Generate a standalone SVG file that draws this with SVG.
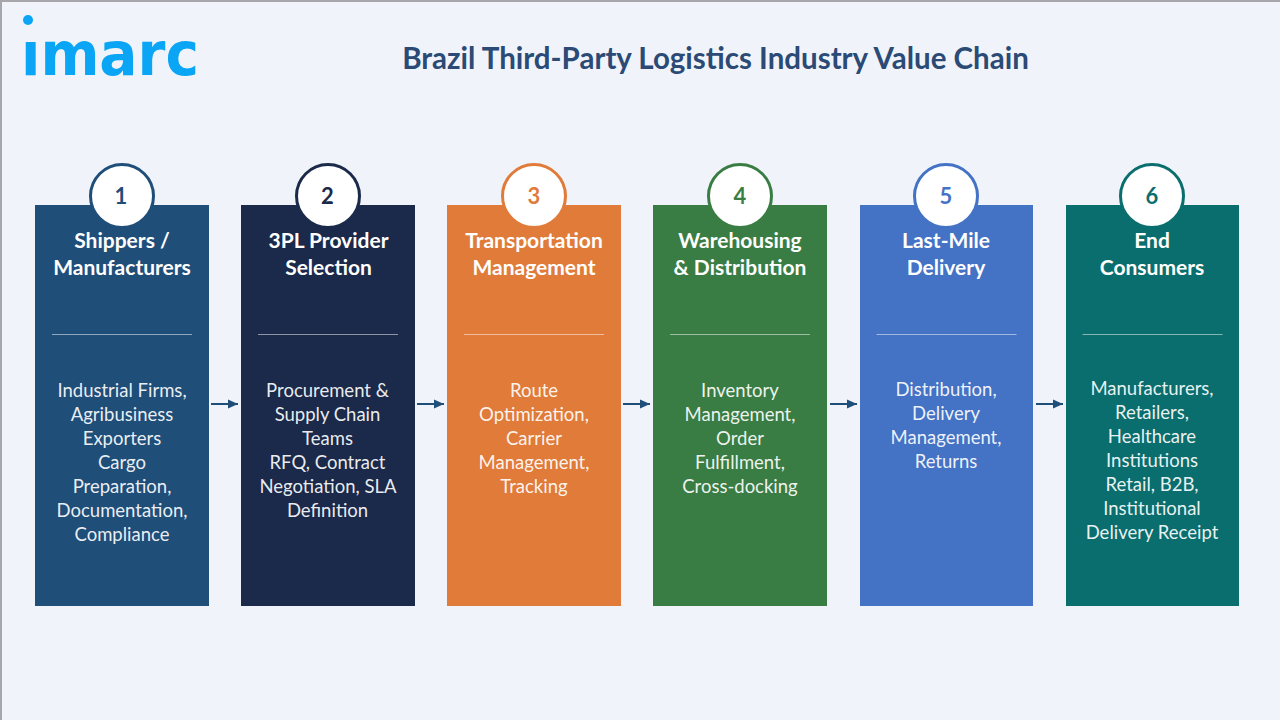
<svg xmlns="http://www.w3.org/2000/svg" width="1280" height="720" viewBox="0 0 1280 720">
<style>
text{font-family:Lato,"Open Sans",sans-serif;text-anchor:middle}
.h{font-size:21px;font-weight:700;fill:#fff}
.b{font-size:18.5px;fill:#fff;fill-opacity:.92}
.n{font-size:22px;font-weight:700}
.d{stroke:#fff;stroke-opacity:.5;stroke-width:1}
.c{fill:#fff;stroke-width:3}
.a{stroke:#1f4e79;stroke-width:2;fill:none;marker-end:url(#m)}
</style>
<defs><marker id="m" markerUnits="userSpaceOnUse" markerWidth="11" markerHeight="10" refX="10" refY="5" orient="auto"><path d="M0 .5L10 5L0 9.500z" fill="#1f4e79"/></marker></defs>
<rect width="1280" height="720" fill="#f0f4fa"/>
<path d="M1 720V1H1280" fill="none" stroke="#a6a6ab" stroke-width="2"/>
<g id="logo"><text x="110" y="75" style="font-family:'DejaVu Sans',sans-serif;font-size:60px;font-weight:700" fill="#0ba5f5" textLength="178" lengthAdjust="spacingAndGlyphs">imarc</text><rect x="20" y="24" width="18" height="16" fill="#f0f4fa"/><circle cx="28" cy="20" r="5" fill="#0ba5f5"/></g>
<text x="715.500" y="69" style="font-size:29.5px;font-weight:700" fill="#2b4a75">Brazil Third-Party Logistics Industry Value Chain</text>
<g id="connectors">
<path class="a" d="M211 404H238"/><path class="a" d="M417 404H444"/><path class="a" d="M623 404H650"/><path class="a" d="M830 404H857"/><path class="a" d="M1036 404H1063"/>
</g>
<g id="node1"><rect x="35" y="205" width="174" height="401" fill="#1f4e79"/><circle class="c" cx="122" cy="196" r="31.500" stroke="#1f4e79"/><text class="n" x="121" y="204" fill="#1f4e79">1</text>
<text class="h" x="122" y="248">Shippers /</text><text class="h" x="122" y="275">Manufacturers</text><line class="d" x1="52" x2="192" y1="334.500" y2="334.500"/>
<text class="b" x="122" y="397">Industrial Firms,</text><text class="b" x="122" y="421">Agribusiness</text><text class="b" x="122" y="445">Exporters</text><text class="b" x="122" y="469">Cargo</text><text class="b" x="122" y="493">Preparation,</text><text class="b" x="122" y="517">Documentation,</text><text class="b" x="122" y="541">Compliance</text></g>
<g id="node2"><rect x="241" y="205" width="174" height="401" fill="#1b2a4a"/><circle class="c" cx="328" cy="196" r="31.500" stroke="#1b2a4a"/><text class="n" x="327.500" y="204" fill="#1b2a4a">2</text>
<text class="h" x="328.500" y="248">3PL Provider</text><text class="h" x="328.500" y="275">Selection</text><line class="d" x1="258" x2="398" y1="334.500" y2="334.500"/>
<text class="b" x="327.500" y="397">Procurement &amp;</text><text class="b" x="327.500" y="421">Supply Chain</text><text class="b" x="327.500" y="445">Teams</text><text class="b" x="327.500" y="469">RFQ, Contract</text><text class="b" x="328" y="493">Negotiation, SLA</text><text class="b" x="327.500" y="517">Definition</text></g>
<g id="node3"><rect x="447" y="205" width="174" height="401" fill="#e07b39"/><circle class="c" cx="534" cy="196" r="31.500" stroke="#e07b39"/><text class="n" x="534" y="204" fill="#e07b39">3</text>
<text class="h" x="534" y="248">Transportation</text><text class="h" x="534" y="275">Management</text><line class="d" x1="464" x2="604" y1="334.500" y2="334.500"/>
<text class="b" x="534" y="397">Route</text><text class="b" x="534" y="421">Optimization,</text><text class="b" x="534" y="445">Carrier</text><text class="b" x="534" y="469">Management,</text><text class="b" x="534" y="493">Tracking</text></g>
<g id="node4"><rect x="653" y="205" width="174" height="401" fill="#3a7d44"/><circle class="c" cx="740" cy="196" r="31.500" stroke="#3a7d44"/><text class="n" x="740" y="204" fill="#3a7d44">4</text>
<text class="h" x="740" y="248">Warehousing</text><text class="h" x="740" y="275">&amp; Distribution</text><line class="d" x1="670" x2="810" y1="334.500" y2="334.500"/>
<text class="b" x="740" y="397">Inventory</text><text class="b" x="740" y="421">Management,</text><text class="b" x="740" y="445">Order</text><text class="b" x="740" y="469">Fulfillment,</text><text class="b" x="740" y="493">Cross-docking</text></g>
<g id="node5"><rect x="860" y="205" width="173" height="401" fill="#4472c4"/><circle class="c" cx="946" cy="196" r="31.500" stroke="#4472c4"/><text class="n" x="946" y="204" fill="#4472c4">5</text>
<text class="h" x="946" y="248">Last-Mile</text><text class="h" x="946" y="275">Delivery</text><line class="d" x1="876.500" x2="1016.500" y1="334.500" y2="334.500"/>
<text class="b" x="946" y="396">Distribution,</text><text class="b" x="946" y="420">Delivery</text><text class="b" x="946" y="444">Management,</text><text class="b" x="946" y="468">Returns</text></g>
<g id="node6"><rect x="1066" y="205" width="173" height="401" fill="#0b6e6e"/><circle class="c" cx="1152" cy="196" r="31.500" stroke="#0b6e6e"/><text class="n" x="1152" y="204" fill="#0b6e6e">6</text>
<text class="h" x="1152" y="248">End</text><text class="h" x="1152" y="275">Consumers</text><line class="d" x1="1082.500" x2="1222.500" y1="334.500" y2="334.500"/>
<text class="b" x="1152" y="395">Manufacturers,</text><text class="b" x="1152" y="419">Retailers,</text><text class="b" x="1152" y="443">Healthcare</text><text class="b" x="1152" y="467">Institutions</text><text class="b" x="1152" y="491">Retail, B2B,</text><text class="b" x="1152" y="515">Institutional</text><text class="b" x="1152" y="539">Delivery Receipt</text></g>
</svg>
